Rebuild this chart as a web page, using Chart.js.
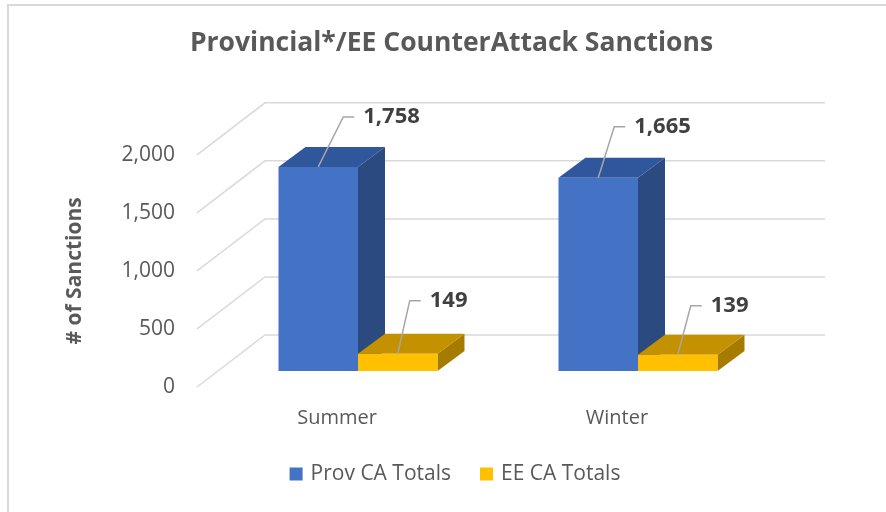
<!DOCTYPE html>
<html>
<head>
<meta charset="utf-8">
<title>Provincial*/EE CounterAttack Sanctions</title>
<script src="https://cdn.jsdelivr.net/npm/chart.js@4.4.1/dist/chart.umd.min.js"></script>
<style>
  html, body { margin: 0; padding: 0; background: #fff; overflow: hidden; }
  #frame {
    position: absolute; left: 7px; top: 4px; width: 900px; height: 520px;
    border-left: 2px solid #d9d9d9; border-top: 2px solid #d9d9d9;
  }
  #chart { position: absolute; left: 0; top: 0; }
</style>
</head>
<body>
<div id="frame"><canvas id="chart" width="885" height="506"></canvas></div>
<script>
// Data
const seasons = ['Summer', 'Winter'];
const seriesNames = ['Prov CA Totals', 'EE CA Totals'];
const provTotals = [1758, 1665];
const eeTotals = [149, 139];
const yTicks = [0, 500, 1000, 1500, 2000];

// Look
const FONT = '"Open Sans", "DejaVu Sans", sans-serif';
const TEXT_COLOR = '#595959';
const GRID_COLOR = '#d9d9d9';
const faceColors = [
    { front: '#4472c4', top: '#30569b', side: '#2b4a80' },
    { front: '#ffc000', top: '#c49200', side: '#a67c00' }
];
// fake perspective: front plane -> back wall, and where the boxes sit
const BACK = { dx: 68, dy: -52 };
const BAR_SHIFT = { dx: 21, dy: -16 };
const BAR_DEPTH = { dx: 27, dy: -20 };
// leader line elbows for the value labels [series][category]
const leaderOffsets = [[[25, -50], [16, -51]], [[12, -53], [13, -49]]];
const LEGEND_POS = { x: 446, y: 468 };

function fillPoly(ctx, pts, color) {
    ctx.beginPath();
    ctx.moveTo(pts[0][0], pts[0][1]);
    for (let i = 1; i < pts.length; i++) ctx.lineTo(pts[i][0], pts[i][1]);
    ctx.closePath();
    ctx.fillStyle = color;
    ctx.fill();
}

// Draws the back wall grid + 3D boxes instead of the flat bars
const box3d = {
    id: 'box3d',
    beforeDatasetsDraw(chart) {
        const { ctx, chartArea } = chart;
        const yScale = chart.scales.y;
        ctx.save();

        // grid: diagonal on the side wall, horizontal on the back wall
        ctx.strokeStyle = GRID_COLOR;
        ctx.lineWidth = 1.5;
        yScale.ticks.forEach(t => {
            const py = yScale.getPixelForValue(t.value);
            ctx.beginPath();
            ctx.moveTo(chartArea.left, py);
            ctx.lineTo(chartArea.left + BACK.dx, py + BACK.dy);
            ctx.lineTo(chartArea.right + BACK.dx, py + BACK.dy);
            ctx.stroke();
        });

        // boxes, left to right so the neighbour covers the hidden side
        const metas = chart.data.datasets.map((d, i) => chart.getDatasetMeta(i));
        for (let c = 0; c < seasons.length; c++) {
            metas.forEach((meta, s) => {
                const p = meta.data[c].getProps(['x', 'y', 'base', 'width'], true);
                const x0 = p.x - p.width / 2 + BAR_SHIFT.dx;
                const x1 = p.x + p.width / 2 + BAR_SHIFT.dx;
                const yt = p.y + BAR_SHIFT.dy;
                const yb = p.base + BAR_SHIFT.dy;
                const dx = BAR_DEPTH.dx, dy = BAR_DEPTH.dy;
                const col = faceColors[s];
                fillPoly(ctx, [[x1, yt], [x1 + dx, yt + dy], [x1 + dx, yb + dy], [x1, yb]], col.side);
                fillPoly(ctx, [[x0, yt], [x1, yt], [x1 + dx, yt + dy], [x0 + dx, yt + dy]], col.top);
                fillPoly(ctx, [[x0, yt], [x1, yt], [x1, yb], [x0, yb]], col.front);
            });
        }
        ctx.restore();
        return false;
    },
    afterDraw(chart) {
        const { ctx } = chart;
        ctx.save();

        // value labels with leader lines
        ctx.font = 'bold 22px ' + FONT;
        ctx.textAlign = 'left';
        ctx.textBaseline = 'middle';
        ctx.strokeStyle = '#a6a6a6';
        ctx.lineWidth = 1.5;
        chart.data.datasets.forEach((ds, s) => {
            const meta = chart.getDatasetMeta(s);
            ds.data.forEach((v, c) => {
                const p = meta.data[c].getProps(['x', 'y'], true);
                const sx = p.x + BAR_SHIFT.dx, sy = p.y + BAR_SHIFT.dy;
                const ex = sx + leaderOffsets[s][c][0], ey = sy + leaderOffsets[s][c][1];
                ctx.beginPath();
                ctx.moveTo(sx, sy);
                ctx.lineTo(ex, ey);
                ctx.lineTo(ex + 11, ey);
                ctx.stroke();
                ctx.fillStyle = '#404040';
                ctx.fillText(v.toLocaleString('en-US'), ex + 20, ey);
            });
        });

        // legend
        ctx.font = '21px ' + FONT;
        const box = 13, gap = 8, spacing = 29;
        const items = chart.data.datasets.map(ds => ({
            text: ds.label, color: ds.backgroundColor, w: ctx.measureText(ds.label).width
        }));
        let total = items.reduce((a, it) => a + box + gap + it.w, 0) + spacing * (items.length - 1);
        let x = LEGEND_POS.x - total / 2;
        items.forEach(it => {
            ctx.fillStyle = it.color;
            ctx.fillRect(x, LEGEND_POS.y - box / 2, box, box);
            ctx.fillStyle = TEXT_COLOR;
            ctx.fillText(it.text, x + box + gap, LEGEND_POS.y);
            x += box + gap + it.w + spacing;
        });
        ctx.restore();
    }
};

new Chart(document.getElementById('chart'), {
    type: 'bar',
    data: {
        labels: seasons,
        datasets: [
            { label: seriesNames[0], data: provTotals, backgroundColor: faceColors[0].front },
            { label: seriesNames[1], data: eeTotals, backgroundColor: faceColors[1].front }
        ]
    },
    options: {
        responsive: false,
        animation: false,
        events: [],
        datasets: { bar: { categoryPercentage: 0.568, barPercentage: 1 } },
        layout: { padding: 0 },
        plugins: {
            legend: { display: false },
            tooltip: { enabled: false },
            title: {
                display: true,
                text: 'Provincial*/EE CounterAttack Sanctions',
                color: TEXT_COLOR,
                font: { family: FONT, size: 26.5, weight: 'bold' },
                padding: { top: 22, bottom: 95 }
            }
        },
        scales: {
            x: {
                ticks: { padding: 19, color: TEXT_COLOR, font: { family: FONT, size: 20 } },
                grid: { display: false, drawTicks: false },
                border: { display: false },
                afterFit: s => { s.height = 125; }
            },
            y: {
                min: 0,
                max: 2000,
                afterBuildTicks: s => { s.ticks = yTicks.map(v => ({ value: v })); },
                ticks: {
                    padding: 22, color: TEXT_COLOR, font: { family: FONT, size: 21 },
                    callback: v => v.toLocaleString('en-US')
                },
                grid: { display: false, drawTicks: false },
                border: { display: false },
                title: {
                    display: true, text: '# of Sanctions', color: TEXT_COLOR,
                    font: { family: FONT, size: 21, weight: 'bold' },
                    padding: { top: 53, bottom: 0 }
                },
                afterFit: s => { s.width = 188; }
            },
            y2: {
                type: 'linear',
                position: 'right',
                ticks: { display: false },
                grid: { display: false, drawTicks: false },
                border: { display: false },
                afterFit: s => { s.width = 137; }
            }
        }
    },
    plugins: [box3d]
});
</script>
</body>
</html>
